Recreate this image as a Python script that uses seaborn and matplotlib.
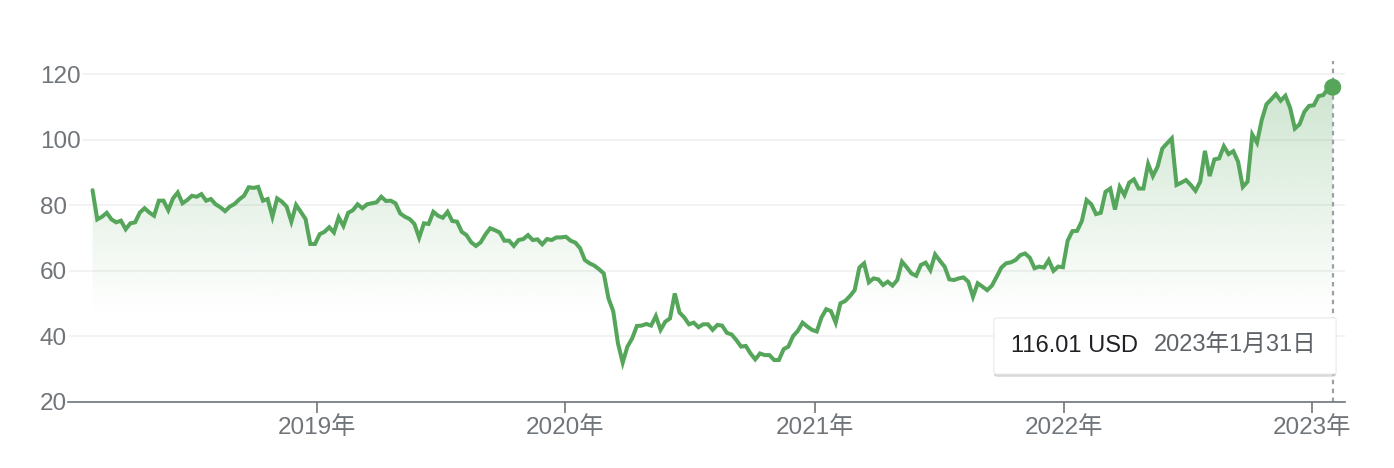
import numpy as np
import pandas as pd
import matplotlib
matplotlib.use("Agg")
import matplotlib.pyplot as plt
import matplotlib.dates as mdates
import matplotlib.patheffects as pe
from matplotlib.patches import FancyBboxPatch
import seaborn as sns

# ---------------- data ----------------
start_date = "2018-02-06"
end_date = "2023-01-31"

prices_2018 = [84.6, 75.7, 76.5, 77.7, 75.7, 74.8, 75.3, 72.7, 74.5, 74.8, 77.8, 79.1, 77.8,
               76.8, 81.4, 81.4, 78.5, 82.1, 83.9, 80.6, 81.6, 82.9, 82.6, 83.4, 81.4, 81.9,
               80.3, 79.4, 78.2, 79.6, 80.4, 81.8, 82.9, 85.5, 85.3, 85.6, 81.4, 81.9, 76.5,
               82.1, 81.1, 79.6, 75.0, 80.1, 78.0, 75.8, 68.2, 68.2, 71.2, 71.9, 73.3, 71.7]
prices_2019 = [76.3, 73.7, 77.7, 78.5, 80.3, 79.1, 80.3, 80.6, 80.9, 82.6, 81.3, 81.4, 80.6,
               77.5, 76.5, 75.8, 74.3, 70.1, 74.5, 74.3, 78.0, 76.8, 76.2, 78.0, 75.2, 75.0,
               71.9, 70.9, 68.7, 67.6, 68.7, 71.1, 73.0, 72.4, 71.7, 69.2, 69.2, 67.6, 69.4,
               69.7, 70.9, 69.4, 69.6, 68.1, 69.7, 69.4, 70.2, 70.2, 70.4, 69.2, 68.6, 66.9, 63.3]
prices_2020 = [62.3, 61.6, 60.5, 59.2, 51.6, 47.7, 37.9, 32.0, 36.9, 39.4, 43.2, 43.3, 43.8,
               43.3, 46.2, 42.0, 44.5, 45.5, 53.1, 47.3, 45.8, 43.7, 44.2, 42.8, 43.7, 43.7,
               42.0, 43.5, 43.3, 41.1, 40.6, 38.9, 36.9, 37.1, 34.8, 33.0, 34.8, 34.3, 34.3,
               32.8, 32.8, 36.1, 36.9, 40.1, 41.7, 44.2, 43.0, 42.0, 41.5, 45.8, 48.3, 47.7, 44.2]
prices_2021 = [50.1, 50.8, 52.3, 54.1, 61.0, 62.3, 56.5, 57.7, 57.4, 55.7, 56.7, 55.5, 57.2,
               62.8, 61.1, 59.2, 58.5, 61.8, 62.5, 60.2, 65.0, 63.1, 61.3, 57.4, 57.2, 57.7,
               58.0, 56.7, 52.1, 56.2, 55.2, 54.1, 55.5, 58.2, 61.0, 62.3, 62.6, 63.3, 64.8,
               65.3, 64.0, 60.8, 61.3, 61.0, 63.3, 60.0, 61.3, 61.1, 69.2, 72.1, 72.2, 75.2]
prices_2022 = [81.6, 80.3, 77.3, 77.7, 84.1, 85.1, 78.7, 85.6, 83.1, 86.9, 87.9, 85.1, 85.1,
               92.6, 88.9, 91.8, 97.3, 98.9, 100.4, 86.2, 86.9, 87.7, 86.2, 84.4, 87.2, 96.6,
               88.9, 94.0, 94.3, 98.0, 95.6, 96.5, 93.3, 85.6, 87.2, 101.6, 99.1, 106.0, 110.8,
               112.3, 113.9, 111.9, 113.4, 109.7, 103.4, 104.7, 108.5, 110.3, 110.5, 113.3,
               113.6, 115.6, 116.01]

y_ticks = [20, 40, 60, 80, 100, 120]
x_tick_years = [2019, 2020, 2021, 2022, 2023]
x_tick_labels = ["2019年", "2020年", "2021年", "2022年", "2023年"]
tooltip_value = "116.01 USD"
tooltip_date = "2023年1月31日"

prices = prices_2018 + prices_2019 + prices_2020 + prices_2021 + prices_2022
dates = pd.date_range(start_date, end_date, periods=len(prices))
df = pd.DataFrame({"date": dates, "price": prices})

# ---------------- style ----------------
GREEN = "#55a55b"
GRAY = "#70757a"
GRID = "#f1f1f1"

sns.set_theme(style="white")
plt.rcParams["font.family"] = ["Liberation Sans", "Noto Sans CJK SC"]

W, H = 1394, 468
fig = plt.figure(figsize=(W / 100, H / 100), dpi=100, facecolor="white")
ax_left, ax_right, ax_top, ax_bottom = 68, 1345, 61, 402
ax = fig.add_axes([ax_left / W, (H - ax_bottom) / H,
                   (ax_right - ax_left) / W, (ax_bottom - ax_top) / H])

x_min = pd.Timestamp("2018-01-01")
x_max = pd.Timestamp("2023-02-18")
y_min, y_max = 20, 124

# line
sns.lineplot(data=df, x="date", y="price", color=GREEN, linewidth=2.9, ax=ax,
             zorder=4, solid_joinstyle="miter")

# gradient fill under line
poly = ax.fill_between(df["date"], df["price"], y_min, facecolor="none",
                       edgecolor="none")
n = 400
vals = np.linspace(y_min, y_max, n)
alpha = np.clip((vals - 47) / (120 - 47), 0, None) * 0.30
rgb = matplotlib.colors.to_rgb(GREEN)
grad = np.zeros((n, 2, 4))
grad[..., 0], grad[..., 1], grad[..., 2] = rgb
grad[..., 3] = alpha[:, None]
im = ax.imshow(grad, extent=[mdates.date2num(x_min), mdates.date2num(x_max), y_min, y_max],
               origin="lower", aspect="auto", zorder=2, interpolation="bilinear")
im.set_clip_path(poly.get_paths()[0], transform=ax.transData)

# vertical dotted cursor line and end marker
ax.axvline(df["date"].iloc[-1], color="#9aa0a6", lw=1.6, ls=(0, (2, 2)), zorder=3)
ax.scatter([df["date"].iloc[-1]], [df["price"].iloc[-1]], s=150, color=GREEN,
           zorder=6, edgecolor="none")

ax.set_xlim(x_min, x_max)
ax.set_ylim(y_min, y_max)

# grid / spines
ax.set_yticks(y_ticks)
ax.set_yticklabels([str(v) for v in y_ticks])
ax.yaxis.grid(True, color=GRID, lw=1.3)
ax.xaxis.grid(False)
ax.set_axisbelow(True)
for s in ["left", "right", "top"]:
    ax.spines[s].set_visible(False)
ax.spines["bottom"].set_color(GRAY)
ax.spines["bottom"].set_linewidth(1.2)
ax.spines["bottom"].set_zorder(5)

ax.tick_params(axis="y", length=0, pad=20.2, labelsize=17.5, labelcolor=GRAY)
for lab in ax.get_yticklabels():
    lab.set_horizontalalignment("left")
    lab.set_bbox(dict(facecolor="white", edgecolor="none", pad=1.2))

ax.set_xticks([pd.Timestamp(f"{y}-01-01") for y in x_tick_years])
ax.set_xticklabels(x_tick_labels)
ax.tick_params(axis="x", bottom=True, direction="out", length=8, width=1.2,
               color=GRAY, pad=2.5, labelsize=17.5, labelcolor=GRAY)
ax.set_xlabel("")
ax.set_ylabel("")

# tooltip
bx0, by_top, bx1, by_bot = 994, 318, 1336, 374
box = FancyBboxPatch(((bx0) / W, (H - by_bot) / H), (bx1 - bx0) / W, (by_bot - by_top) / H,
                     boxstyle="round,pad=0,rounding_size=0.003",
                     transform=fig.transFigure, facecolor="white", edgecolor="#e8e8e8",
                     lw=0.6, zorder=10)
box.set_path_effects([pe.withSimplePatchShadow(offset=(0, -2), shadow_rgbFace="black",
                                               alpha=0.15), pe.Normal()])
fig.patches.append(box)
ty = (H - 346) / H
fig.text(1011 / W, ty, tooltip_value, color="#202124", fontsize=17, va="center",
         ha="left", zorder=11)
fig.text(1154 / W, ty, tooltip_date, color="#5f6368", fontsize=17, va="center",
         ha="left", zorder=11)

fig.savefig("out.png", dpi=100, facecolor="white")
